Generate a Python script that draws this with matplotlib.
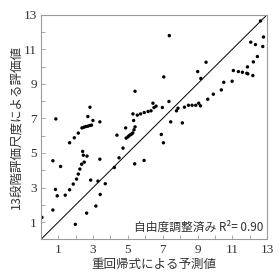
import matplotlib
matplotlib.use("Agg")
import matplotlib.pyplot as plt

predicted = [0.06, 0.69, 0.69, 0.86, 0.84, 0.94, 1.13, 1.40, 1.65, 1.65, 1.86, 1.92, 1.98, 2.05,
             2.15, 2.15, 2.24, 2.34, 2.40, 2.44, 2.49,
             2.36, 2.47, 2.58, 2.70, 2.81, 2.91,
             2.63, 2.65, 2.70, 2.82, 2.86, 2.99, 3.16, 3.28, 3.39, 3.39, 3.41, 3.70,
             4.22, 4.37, 4.49, 4.72, 4.87,
             4.90, 5.00, 5.07, 5.15, 5.22, 5.28,
             5.29, 5.33, 5.35, 5.41, 5.39, 5.41, 5.54, 5.73, 5.93, 5.94, 6.16, 6.33,
             6.44, 6.50, 6.62, 6.92, 6.98, 7.04, 7.06, 7.36, 7.38, 7.46, 7.79, 7.88,
             8.13, 8.25, 8.48, 8.69, 8.90, 9.01, 9.07, 9.17, 9.19, 9.49, 9.59, 9.91,
             10.37, 10.51, 10.99, 11.06, 11.35, 11.58, 11.83, 11.87, 11.89, 12.06,
             12.18, 12.21, 12.33, 12.44, 12.62, 12.79, 12.75]
rated = [1.27, 1.70, 4.55, 6.97, 2.89, 2.52, 4.22, 2.56, 2.87, 5.59, 3.20, 5.88, 0.87, 3.49,
         6.15, 3.78, 4.07, 4.35, 5.09, 4.87, 4.47,
         6.45, 6.49, 6.53, 6.55, 6.59, 6.61,
         1.52, 4.82, 7.11, 7.65, 3.43, 6.88, 1.93, 3.37, 4.64, 6.80, 2.60, 3.22,
         4.16, 6.03, 4.72, 5.28, 6.45,
         5.86, 5.93, 6.00, 6.06, 6.10, 6.16,
         7.26, 6.88, 6.34, 6.51, 4.37, 8.57, 7.19, 7.26, 4.57, 7.34, 7.40, 7.44,
         7.88, 7.63, 7.71, 6.07, 7.63, 5.59, 9.40, 7.98, 11.79, 6.80, 7.44, 7.59,
         6.74, 7.65, 7.76, 7.76, 7.76, 9.71, 7.88, 7.73, 9.31, 10.25, 8.11, 8.40,
         8.65, 9.09, 9.15, 9.77, 9.71, 9.67, 9.61, 9.98, 9.58, 11.41,
         9.48, 10.27, 11.27, 10.58, 12.64, 11.71, 11.16]

ticks = list(range(0, 14))
tick_labels = [str(t) if t % 2 == 1 else "" for t in ticks]

xlabel = "重回帰式による予測値"
ylabel = "13段階評価尺度による評価値"
note = "自由度調整済み R²= 0.90"

cjk = ["Noto Sans CJK JP", "DejaVu Sans"]
text_color = "#333333"
spine_color = "#9a9a9a"

fig = plt.figure(figsize=(2.8, 2.8), dpi=100)
ax = fig.add_axes([0.146, 0.145, 0.808, 0.8025])

ax.plot([0, 13], [0, 13], color="black", lw=0.7, zorder=1)
ax.scatter(predicted, rated, s=6, color="black", edgecolors="none", zorder=2)

ax.set_xlim(0, 13)
ax.set_ylim(0, 13)
ax.set_xticks(ticks)
ax.set_yticks(ticks)
ax.set_xticklabels(tick_labels, fontfamily="Liberation Serif", fontsize=9.5, color=text_color)
ax.set_yticklabels(tick_labels, fontfamily="Liberation Serif", fontsize=9.5, color=text_color)
ax.tick_params(direction="in", length=3, width=0.6, color=spine_color, pad=3)
for s in ax.spines.values():
    s.set_color(spine_color)
    s.set_linewidth(0.8)

ax.set_xlabel(xlabel, family=cjk, fontsize=9, color=text_color, labelpad=2)
ax.set_ylabel(ylabel, family=cjk, fontsize=9, color=text_color, labelpad=1)
ax.text(12.78, 0.7, note, family=cjk, fontsize=8.5, color=text_color, ha="right", va="center")

fig.savefig("out.png", dpi=100)
